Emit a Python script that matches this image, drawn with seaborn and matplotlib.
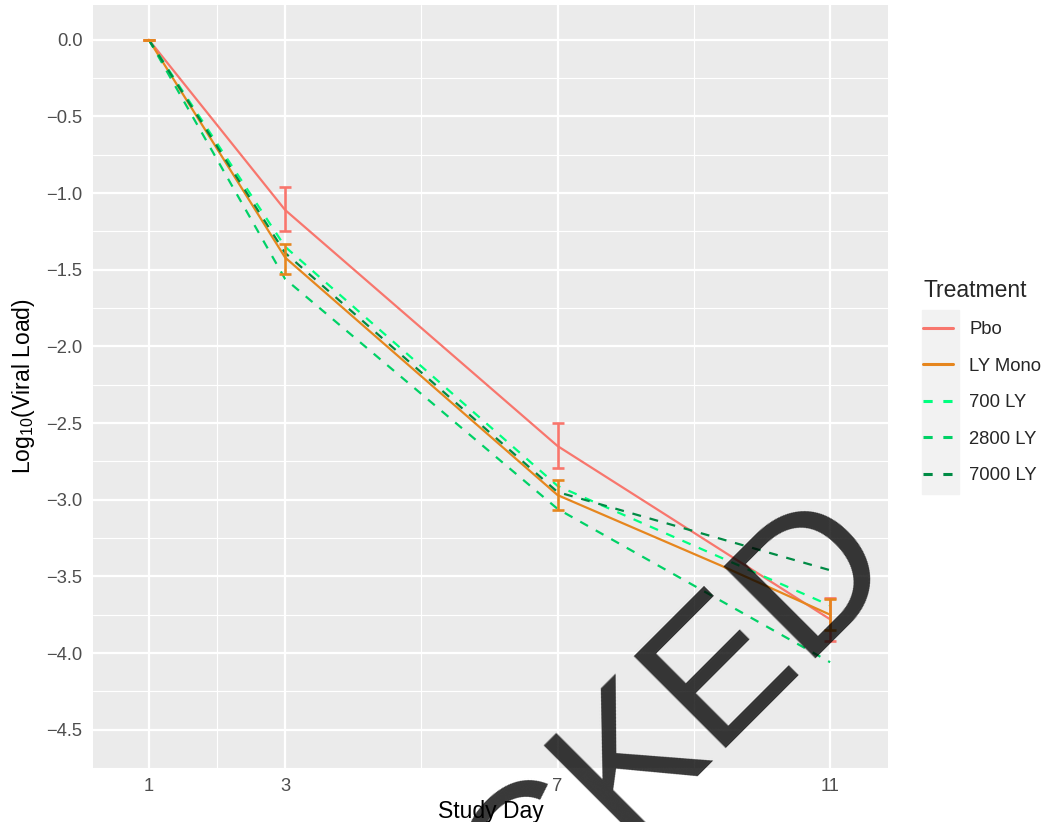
import matplotlib
matplotlib.use("Agg")
import matplotlib.pyplot as plt
from matplotlib.lines import Line2D
from matplotlib.patches import Rectangle
import seaborn as sns
import pandas as pd

# values (log10 change from baseline)
treatments = ["Pbo", "LY Mono", "700 LY", "2800 LY", "7000 LY"]

pbo_days = [1, 3, 7, 11]
pbo_mean = [0.0, -1.11, -2.65, -3.78]
pbo_lo = [0.0, -1.25, -2.79, -3.92]
pbo_hi = [0.0, -0.96, -2.50, -3.64]

mono_days = [1, 3, 7, 9.4, 11]
mono_mean = [0.0, -1.42, -2.97, -3.43, -3.75]
mono_bar_days = [1, 3, 7, 11]
mono_bar_mean = [0.0, -1.42, -2.97, -3.75]
mono_lo = [0.0, -1.53, -3.07, -3.85]
mono_hi = [0.0, -1.33, -2.87, -3.65]

combo_days = [1, 3, 7, 11]
ly700 = [0.0, -1.35, -2.91, -3.69]
ly2800 = [0.0, -1.56, -3.06, -4.06]
ly7000 = [0.0, -1.39, -2.95, -3.46]

colors = {"Pbo": "#F8766D", "LY Mono": "#E6861E", "700 LY": "#00FF7F",
          "2800 LY": "#00D166", "7000 LY": "#008B45"}
dashes = {"Pbo": "", "LY Mono": "", "700 LY": (4, 4),
          "2800 LY": (4, 4), "7000 LY": (4, 4)}

rows = []
for d, v in zip(pbo_days, pbo_mean):
    rows.append(("Pbo", d, v))
for d, v in zip(mono_days, mono_mean):
    rows.append(("LY Mono", d, v))
for name, vals in [("700 LY", ly700), ("2800 LY", ly2800), ("7000 LY", ly7000)]:
    for d, v in zip(combo_days, vals):
        rows.append((name, d, v))
df = pd.DataFrame(rows, columns=["Treatment", "day", "value"])

sns.set_theme(style="darkgrid", rc={"axes.facecolor": "#EBEBEB"})
plt.rcParams["font.family"] = ["Liberation Sans", "DejaVu Sans"]
plt.rcParams["mathtext.default"] = "regular"

fig = plt.figure(figsize=(10.47, 8.22), dpi=100)
W, H = 1047, 822
ax = fig.add_axes([93 / W, 1 - 768 / H, (888 - 93) / W, (768 - 5) / H])

sns.lineplot(data=df, x="day", y="value", hue="Treatment", style="Treatment",
             hue_order=treatments, style_order=treatments, palette=colors,
             dashes=dashes, estimator=None, lw=1.6, legend=False, ax=ax)

ax.errorbar(pbo_days, pbo_mean,
            yerr=[[m - l for m, l in zip(pbo_mean, pbo_lo)],
                  [h - m for m, h in zip(pbo_mean, pbo_hi)]],
            fmt="none", ecolor=colors["Pbo"], elinewidth=1.9, capsize=4, capthick=1.9)
ax.errorbar(mono_bar_days, mono_bar_mean,
            yerr=[[m - l for m, l in zip(mono_bar_mean, mono_lo)],
                  [h - m for m, h in zip(mono_bar_mean, mono_hi)]],
            fmt="none", ecolor=colors["LY Mono"], elinewidth=1.9, capsize=4, capthick=1.9)

ax.set_xlim(0.18, 11.85)
ax.set_ylim(-4.727, 0.227)
ax.set_xticks([1, 3, 7, 11])
ax.set_xticks([2, 5, 9], minor=True)
yt = [0.0, -0.5, -1.0, -1.5, -2.0, -2.5, -3.0, -3.5, -4.0, -4.5]
ax.set_yticks(yt)
ax.set_yticklabels([f"{v:.1f}".replace("-", "\u2212") for v in yt])
ax.set_yticks([v - 0.25 for v in yt[:-1]] + [-4.75], minor=True)
ax.grid(which="major", color="white", lw=1.6)
ax.grid(which="minor", color="white", lw=0.8)
ax.tick_params(which="major", length=4.5, width=1.3, color="#333333",
               labelsize=13.2, labelcolor="#4D4D4D", pad=3)
ax.tick_params(which="minor", length=0)
for s in ax.spines.values():
    s.set_visible(False)

ax.set_xlabel("Study Day", fontsize=16.5, color="black", labelpad=3)
ax.set_ylabel("Log$_{10}$(Viral Load)", fontsize=16.5, color="black", labelpad=7)

# legend with grey key background
fig.add_artist(Rectangle((922 / W, 1 - 494 / H), 37 / W, 184 / H,
                         transform=fig.transFigure, color="#F2F2F2", zorder=0))
handles = [Line2D([], [], color=colors[t], lw=2.2,
                  ls="-" if t in ("Pbo", "LY Mono") else (0, (3, 3.5)))
           for t in treatments]
leg = fig.legend(handles, treatments, title="Treatment", loc="upper left",
                 bbox_to_anchor=(923 / W, 1 - 279 / H), frameon=False,
                 fontsize=13.3, title_fontsize=16.5, handlelength=1.65,
                 handletextpad=0.85, labelspacing=1.05, borderpad=0,
                 borderaxespad=0, alignment="left")

fig.text(898 / W, 1 - 561 / H, "BLOCKED", rotation=45, rotation_mode="anchor",
         ha="right", va="baseline", fontsize=137, color="black", alpha=0.78,
         family="Liberation Sans", zorder=10)

fig.savefig("out.png", dpi=100)
